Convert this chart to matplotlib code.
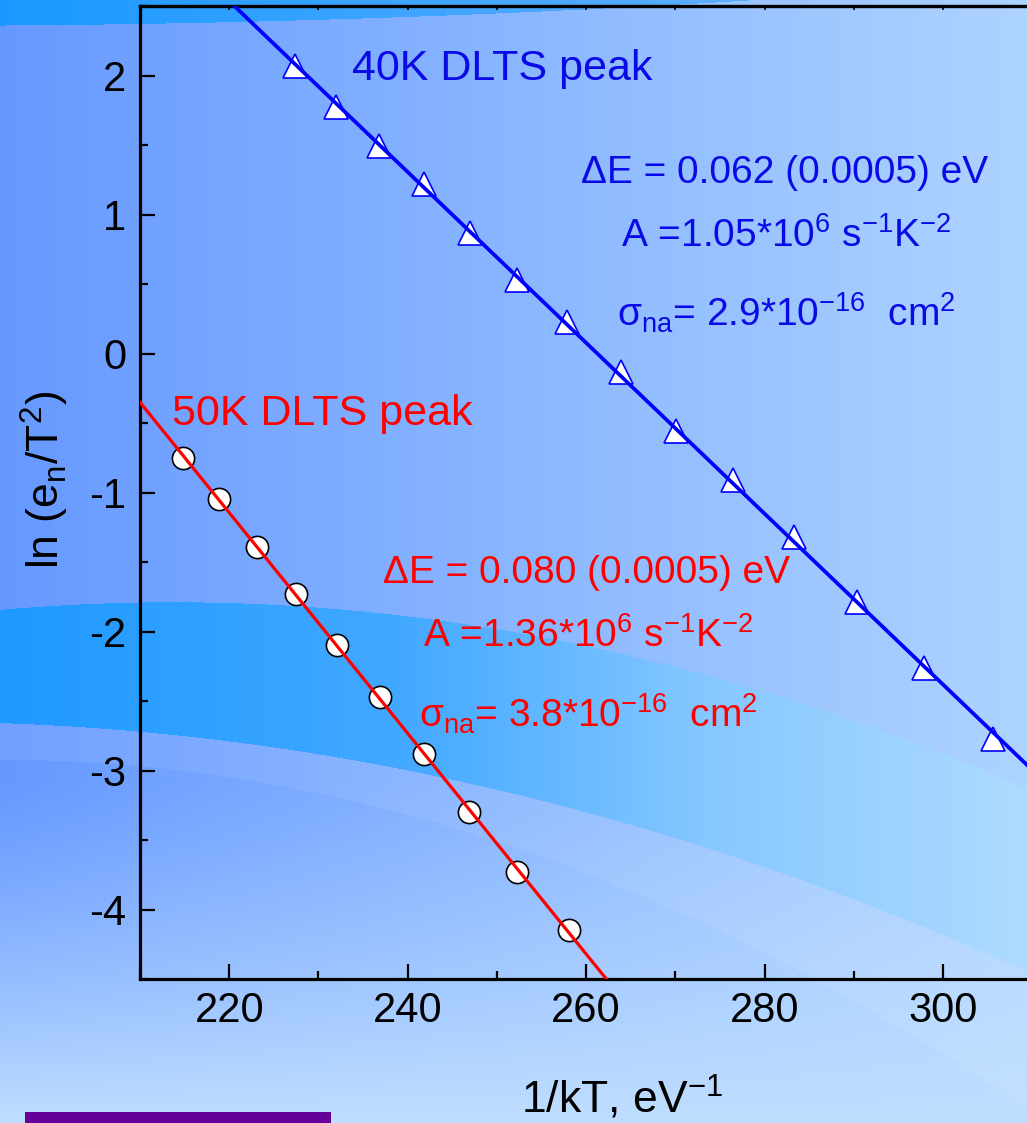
import numpy as np
import matplotlib.pyplot as plt
from matplotlib.patches import Rectangle
from matplotlib.ticker import MultipleLocator

plt.rcParams['font.family'] = ['Liberation Sans', 'DejaVu Sans']
plt.rcParams['mathtext.fontset'] = 'custom'
plt.rcParams['mathtext.rm'] = 'Liberation Sans'
plt.rcParams['mathtext.it'] = 'Liberation Sans'
plt.rcParams['mathtext.bf'] = 'Liberation Sans'
plt.rcParams['mathtext.default'] = 'rm'
plt.rcParams['axes.unicode_minus'] = False

# Arrhenius data (1/kT in eV^-1, ln(e_n/T^2))
x_40k = [227.4, 232.0, 236.8, 241.8, 247.0, 252.3, 257.9, 263.9, 270.1, 276.5, 283.3, 290.3, 297.9, 305.6]
y_40k = [2.07, 1.77, 1.49, 1.22, 0.87, 0.53, 0.23, -0.13, -0.56, -0.91, -1.32, -1.79, -2.26, -2.77]
x_50k = [214.8, 218.9, 223.1, 227.5, 232.1, 236.9, 241.8, 246.9, 252.3, 258.1]
y_50k = [-0.75, -1.05, -1.39, -1.73, -2.10, -2.47, -2.88, -3.30, -3.73, -4.15]

xticks = [220, 240, 260, 280, 300]
yticks = [-4, -3, -2, -1, 0, 1, 2]

W, H = 1027, 1123
fig = plt.figure(figsize=(W / 100, H / 100), dpi=100)

# ---- slide-like background ----
yy, xx = np.mgrid[0:H, 0:W].astype(float)
cols = np.arange(W, dtype=float)


def curve(px, py, deg=2):
    return np.polyval(np.polyfit(px, py, deg), cols)


t = (xx / (W - 1))[..., None]
c_left = np.array([0.40, 0.60, 1.00])
c_right = np.array([0.68, 0.83, 1.00])
img = (1 - t) * c_left + t * c_right
s = (np.clip((yy - 780) / (H - 780), 0, 1) ** 1.2)[..., None]
light = np.array([0.75, 0.87, 1.00])
img = img * (1 - s) + light * s

top_edge = curve([0, 300, 600, 750], [25, 20, 8, 0])
upper = curve([0, 393, 655, 850, 1027], [608, 620, 655, 720, 790])
lower = curve([0, 250, 500, 850, 1027], [723, 745, 785, 905, 967])
stripe = curve([0, 282, 600, 850, 1027], [757, 790, 880, 990, 1113])

band_c = np.array([
    np.interp(cols, [0, 400, 700, 1027], [0.12, 0.26, 0.52, 0.68]),
    np.interp(cols, [0, 400, 700, 1027], [0.60, 0.66, 0.78, 0.86]),
    np.ones(W),
]).T
top_c = np.array([
    np.interp(cols, [0, 700], [0.10, 0.35]),
    np.interp(cols, [0, 700], [0.60, 0.68]),
    np.ones(W),
]).T

m_stripe = (yy >= lower[None, :]) & (yy < stripe[None, :])
img[m_stripe] = img[m_stripe] * 0.93 + 0.07
m_band = (yy > upper[None, :]) & (yy < lower[None, :])
img[m_band] = np.broadcast_to(band_c[None, :, :], img.shape)[m_band]
m_top = yy < top_edge[None, :]
img[m_top] = np.broadcast_to(top_c[None, :, :], img.shape)[m_top]

ax_bg = fig.add_axes([0, 0, 1, 1], zorder=0)
ax_bg.imshow(img, extent=[0, W, H, 0], aspect='auto', interpolation='bilinear')
ax_bg.set_xlim(0, W)
ax_bg.set_ylim(H, 0)
ax_bg.axis('off')
ax_bg.add_patch(Rectangle((25, 1112), 306, 11, color='#660099', lw=0))

# ---- main axes ----
ax = fig.add_axes([140 / W, (H - 979) / H, 1 - 140 / W, 973 / H], zorder=1)
ax.set_facecolor('none')
ax.set_xlim(210, 309.4)
ax.set_ylim(-4.5, 2.5)

ax.plot(x_40k, y_40k, ls='none', marker='^', ms=17, mfc='white', mec='#0000ff', mew=1.2, zorder=2)
ax.plot(x_50k, y_50k, ls='none', marker='o', ms=16, mfc='white', mec='black', mew=1.2, zorder=2)

k40, b40 = np.polyfit(x_40k, y_40k, 1)
k50, b50 = np.polyfit(x_50k, y_50k, 1)
ax.axline((0, b40), slope=k40, color='#0000ff', lw=2.7, zorder=3)
ax.axline((0, b50), slope=k50, color='#ff0000', lw=2.3, zorder=3)

ax.set_xticks(xticks)
ax.set_yticks(yticks)
ax.xaxis.set_minor_locator(MultipleLocator(10))
ax.yaxis.set_minor_locator(MultipleLocator(0.5))
ax.tick_params(which='major', direction='in', length=11, width=1.6, labelsize=30)
ax.tick_params(which='minor', direction='in', length=6, width=1.6)
ax.tick_params(axis='x', which='major', pad=9)
ax.tick_params(axis='y', which='major', pad=10)
for side in ['left', 'bottom', 'top']:
    ax.spines[side].set_linewidth(2.3)
ax.spines['right'].set_visible(False)

sec = ax.secondary_xaxis('top')
sec.set_xticks(xticks)
sec.xaxis.set_minor_locator(MultipleLocator(10))
sec.tick_params(which='both', direction='in', length=3, width=1.2, labeltop=False)
sec.spines['top'].set_linewidth(2.3)

fig.text(45 / W, 1 - 480 / H, 'ln (e$_{n}$/T$^{2}$)', rotation=90, fontsize=32,
         ha='center', va='center')
fig.text(521 / W, 1 - 1113 / H, '1/kT, eV$^{-1}$', fontsize=32, ha='left', va='baseline')

blue = '#0a0ae6'
red = '#ff0000'
ax.text(233.8, 1.968, '40K DLTS peak', color=blue, fontsize=31, va='baseline')
ax.text(282.2, 1.227, 'ΔE = 0.062 (0.0005) eV', color=blue, fontsize=28, ha='center', va='baseline')
ax.text(282.4, 0.766, 'A =1.05*10$^{6}$ s$^{-1}$K$^{-2}$', color=blue, fontsize=28, ha='center', va='baseline')
ax.text(282.4, 0.191, 'σ$_{na}$= 2.9*10$^{-16}$  cm$^{2}$', color=blue, fontsize=28, ha='center', va='baseline')

ax.text(213.6, -0.514, '50K DLTS peak', color=red, fontsize=31, va='baseline')
ax.text(260.0, -1.651, 'ΔE = 0.080 (0.0005) eV', color=red, fontsize=28, ha='center', va='baseline')
ax.text(260.2, -2.112, 'A =1.36*10$^{6}$ s$^{-1}$K$^{-2}$', color=red, fontsize=28, ha='center', va='baseline')
ax.text(260.2, -2.694, 'σ$_{na}$= 3.8*10$^{-16}$  cm$^{2}$', color=red, fontsize=28, ha='center', va='baseline')

fig.savefig('out.png', dpi=100)
